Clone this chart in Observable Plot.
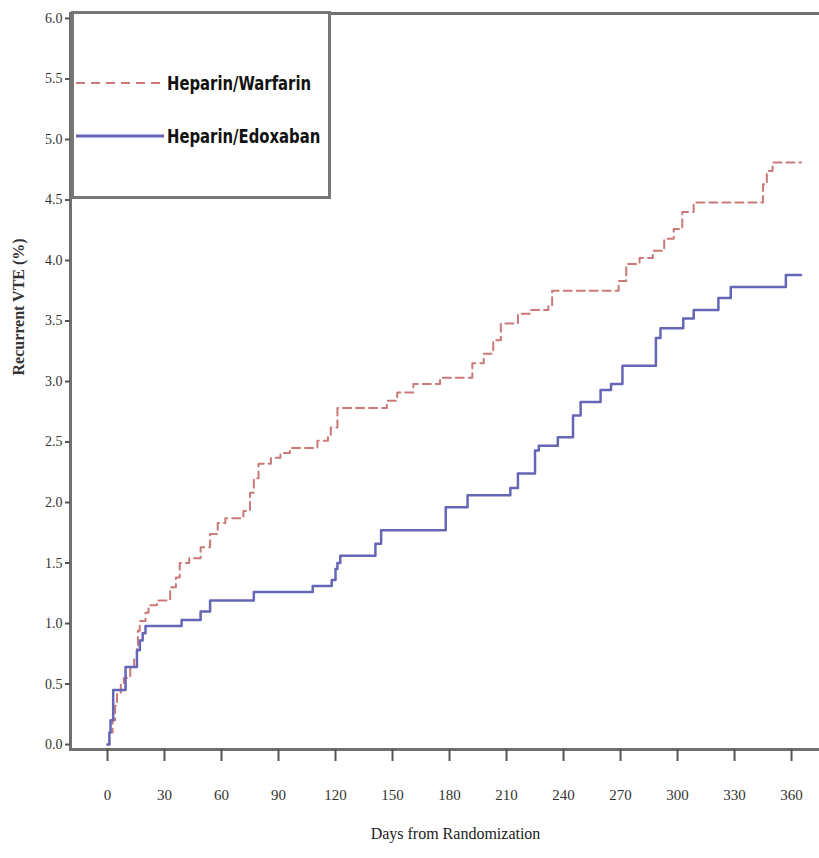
<!DOCTYPE html>
<html>
<head>
<meta charset="utf-8">
<script src="https://cdn.jsdelivr.net/npm/d3@7"></script>
<script src="https://cdn.jsdelivr.net/npm/@observablehq/plot@0.6"></script>
<style>
  html, body { margin: 0; padding: 0; background: #fff; }
  #wrap { position: relative; width: 819px; height: 858px; overflow: hidden; }
  #wrap > svg { max-width: none !important; }
  #legend {
    position: absolute; left: 71px; top: 11px; width: 260px; height: 188px;
    box-sizing: border-box; border: 3px solid #777; background: #fff;
  }
  #legend svg { position: absolute; left: 0; top: 0; }
  .legtxt {
    font-family: "Liberation Sans Narrow", "DejaVu Sans Condensed", "Arial Narrow", "Liberation Sans", sans-serif;
    font-weight: bold; font-size: 16.5px; fill: #111;
  }
</style>
</head>
<body>
<div id="wrap"></div>
<script>
// Series names
const seriesNames = ["Heparin/Warfarin", "Heparin/Edoxaban"];

// Kaplan-Meier style step data: day at which the cumulative % becomes the value
const warfarinDays = [0, 1, 2.7, 4, 5, 7, 8.6, 12, 14, 15.5, 16, 17, 20, 21.6, 26, 33, 36, 38, 43, 49, 54, 58, 62, 71.5, 75, 77, 79.5, 86, 91, 96, 110.5, 116, 117.5, 121, 147, 152.5, 161, 175, 192, 198, 203, 207, 216, 222.5, 232, 234, 269, 273, 280, 287, 293, 298, 302.5, 308.5, 345, 347, 350, 365];
const warfarinVals = [0, 0.1, 0.2, 0.32, 0.42, 0.5, 0.55, 0.64, 0.72, 0.8, 0.94, 1.02, 1.09, 1.15, 1.19, 1.3, 1.38, 1.5, 1.54, 1.63, 1.74, 1.83, 1.87, 1.93, 2.08, 2.2, 2.32, 2.37, 2.41, 2.45, 2.51, 2.54, 2.62, 2.78, 2.84, 2.91, 2.98, 3.03, 3.15, 3.23, 3.34, 3.48, 3.56, 3.59, 3.63, 3.75, 3.83, 3.97, 4.02, 4.08, 4.18, 4.26, 4.40, 4.48, 4.63, 4.74, 4.81, 4.81];

const edoxabanDays = [0, 1, 1.6, 3, 9.5, 15.5, 17, 18.5, 20, 39, 49, 54, 77, 108, 118, 120, 121, 122.5, 141, 144, 178, 189.5, 212, 216, 225, 227, 237, 245, 249, 259.5, 265, 271, 288.6, 291, 303, 308.5, 321.5, 328, 357, 365];
const edoxabanVals = [0, 0.1, 0.2, 0.45, 0.64, 0.78, 0.86, 0.92, 0.98, 1.03, 1.1, 1.19, 1.26, 1.31, 1.36, 1.45, 1.5, 1.56, 1.66, 1.77, 1.96, 2.06, 2.12, 2.24, 2.43, 2.47, 2.54, 2.72, 2.83, 2.93, 2.98, 3.13, 3.36, 3.44, 3.52, 3.59, 3.69, 3.78, 3.88, 3.88];

// Tick values
const xTicks = [0, 30, 60, 90, 120, 150, 180, 210, 240, 270, 300, 330, 360];
const yTicks = [0, 0.5, 1, 1.5, 2, 2.5, 3, 3.5, 4, 4.5, 5, 5.5, 6];

const xLabel = "Days from Randomization";
const yLabel = "Recurrent VTE (%)";

const colors = { "Heparin/Warfarin": "#cc7878", "Heparin/Edoxaban": "#6666b6" };

const warfarin = warfarinDays.map((d, i) => ({ day: d, pct: warfarinVals[i], series: seriesNames[0] }));
const edoxaban = edoxabanDays.map((d, i) => ({ day: d, pct: edoxabanVals[i], series: seriesNames[1] }));

const tickFont = '"Liberation Serif", "DejaVu Serif", serif';

const chart = Plot.plot({
  width: 830,
  height: 858,
  marginLeft: 70,
  marginRight: 0,
  marginTop: 13,
  marginBottom: 109,
  style: { background: "#fff", fontFamily: tickFont, color: "#333", maxWidth: "none" },
  x: { domain: [-19.47, 380.5] },
  y: { domain: [-0.041, 6.041] },
  marks: [
    Plot.line(warfarin, { x: "day", y: "pct", curve: "step-after", stroke: colors[seriesNames[0]], strokeWidth: 2, strokeDasharray: "8,5" }),
    Plot.line(edoxaban, { x: "day", y: "pct", curve: "step-after", stroke: colors[seriesNames[1]], strokeWidth: 2.5 }),
    Plot.frame({ stroke: "#707070", strokeWidth: 3 }),
    Plot.axisX({ ticks: xTicks, tickSize: 12, tickPadding: 28, tickFormat: d3.format("d"), fontSize: 15, stroke: "#555", strokeWidth: 2, label: null }),
    Plot.axisY({ ticks: yTicks, tickSize: 5, tickPadding: 3, tickFormat: d3.format(".1f"), fontSize: 14, stroke: "#555", strokeWidth: 2, label: null }),
    Plot.text([xLabel], { frameAnchor: "bottom", dy: 84, dx: 5, text: d => d, fontSize: 16, fontFamily: tickFont, fill: "#222", lineAnchor: "middle" }),
    Plot.text([yLabel], { frameAnchor: "left", dx: -52, dy: -6, rotate: -90, text: d => d, fontSize: 16, fontFamily: tickFont, fontWeight: "bold", fill: "#333", lineAnchor: "middle" })
  ]
});
chart.style.maxWidth = "none";

const wrap = document.getElementById("wrap");
wrap.appendChild(chart);

// Legend (HTML overlay, top-left inside the plot)
const legend = document.createElement("div");
legend.id = "legend";
const ns = "http://www.w3.org/2000/svg";
const lsvg = document.createElementNS(ns, "svg");
lsvg.setAttribute("width", 254);
lsvg.setAttribute("height", 182);
seriesNames.forEach((name, i) => {
  const yy = 69 + i * 53;
  const ln = document.createElementNS(ns, "line");
  ln.setAttribute("x1", 2); ln.setAttribute("x2", 90);
  ln.setAttribute("y1", yy); ln.setAttribute("y2", yy);
  ln.setAttribute("stroke", colors[name]);
  ln.setAttribute("stroke-width", i === 0 ? 2 : 3);
  if (i === 0) ln.setAttribute("stroke-dasharray", "9,6");
  lsvg.appendChild(ln);
  const tx = document.createElementNS(ns, "text");
  tx.setAttribute("transform", `translate(93,${yy}) scale(1,1.2)`);
  tx.setAttribute("dy", "0.35em");
  tx.setAttribute("class", "legtxt");
  tx.textContent = name;
  lsvg.appendChild(tx);
});
legend.appendChild(lsvg);
wrap.appendChild(legend);
</script>
</body>
</html>
